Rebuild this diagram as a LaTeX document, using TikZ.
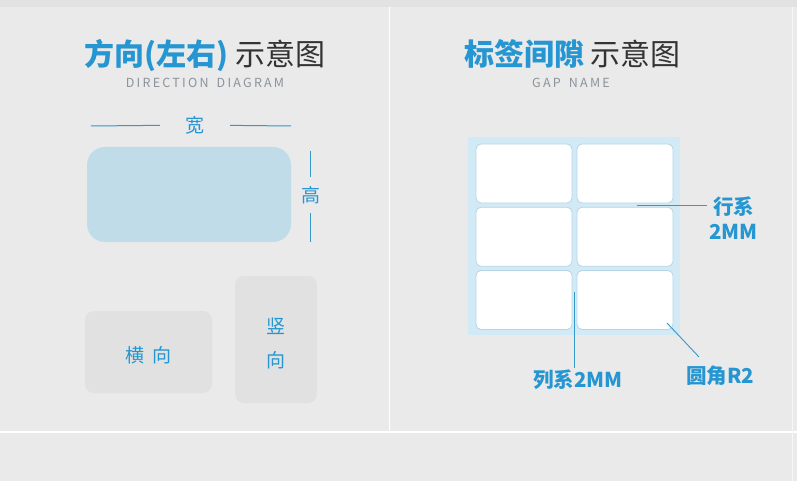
\documentclass[tikz,border=0pt]{standalone}
\usepackage{fontspec}
\setmainfont{Noto Sans CJK SC}
\definecolor{bgcol}{HTML}{EAEAEA}
\definecolor{stripcol}{HTML}{E2E2E2}
\definecolor{tblue}{HTML}{2596D1}
\definecolor{lblue}{HTML}{3399C8}
\definecolor{cardcol}{HTML}{C0DCE8}
\definecolor{boxcol}{HTML}{E1E1E1}
\definecolor{sheetcol}{HTML}{D2EAF6}
\definecolor{tagline}{HTML}{B5D5E5}
\definecolor{darktxt}{HTML}{333333}
\definecolor{subtxt}{HTML}{8C939B}
\tikzset{
  title/.style={anchor=base, inner sep=0pt, text=darktxt, font=\fontsize{30}{34}\selectfont},
  sub/.style={anchor=base, inner sep=0pt, text=subtxt, font=\fontsize{12.5}{14}\selectfont\addfontfeatures{LetterSpace=18}},
  dimlbl/.style={inner sep=0pt, text=tblue, font=\fontsize{19}{22}\selectfont},
  dimline/.style={lblue, line width=1pt},
  graybox/.style={fill=boxcol, rounded corners=9pt},
  boxtxt/.style={inner sep=0pt, text=tblue, font=\fontsize{19}{34}\selectfont},
  tag/.style={draw=tagline, fill=white, line width=0.8pt, rounded corners=5pt, minimum width=96pt, minimum height=59pt},
  note/.style={inner sep=2pt, text=tblue, font=\fontsize{20.5}{25}\selectfont\bfseries},
  lead/.style={lblue, line width=0.9pt}
}
\begin{document}
\begin{tikzpicture}[x=1pt,y=-1pt]
\useasboundingbox (0,0) rectangle (797,481);
% sfondo
\fill[bgcol] (0,0) rectangle (797,481);
\fill[stripcol] (0,0) rectangle (797,7);
\draw[white, line width=1.5pt] (389.5,7) -- (389.5,432);
\draw[white, line width=1.5pt] (0,432) -- (797,432);
\draw[white!60!bgcol, line width=1pt] (792.5,7) -- (792.5,481);
% sinistra: titolo
\node[title] (titL) at (205,66) {{\color{tblue}\bfseries 方向(左右)} 示意图};
\node[sub] (subL) at (205,88) {DIRECTION\hspace{3pt} DIAGRAM};
% larghezza
\node[dimlbl, minimum width=70pt] (wd) at (195,125) {宽};
\coordinate (wl) at (91,126);
\coordinate (wr) at (291,126);
\draw[dimline] (wl) -- (wd);
\draw[dimline] (wd) -- (wr);
% carta
\node[fill=cardcol, rounded corners=18pt, minimum width=204pt, minimum height=95pt] (card) at (189,194.5) {};
% altezza
\node[dimlbl, minimum height=36pt] (ht) at (310.5,195) {高};
\coordinate (htop) at (310.5,151);
\coordinate (hbot) at (310.5,242);
\draw[dimline] (htop) -- (ht);
\draw[dimline] (ht) -- (hbot);
% orientamento
\node[graybox, minimum width=127pt, minimum height=82pt,
  label={[boxtxt, yshift=-3pt]center:横\hspace{8pt}向}] (horiz) at (148.5,352) {};
\node[graybox, minimum width=82pt, minimum height=127pt,
  label={[boxtxt, align=center, yshift=-4pt]center:竖\\向}] (vert) at (276,339.5) {};
% destra: titolo
\node[title] (titR) at (572.5,66) {{\color{tblue}\bfseries 标签间隙} 示意图};
\node[sub] (subR) at (571,88) {GAP\hspace{3pt} NAME};
% foglio con etichette
\node[fill=sheetcol, minimum width=212pt, minimum height=197pt] (sheet) at (574,236) {};
\foreach \r in {1,2,3}
  \foreach \c in {1,2}
    \node[tag] (t\r\c) at ({524+(\c-1)*101},{173.5+(\r-1)*63.25}) {};
% quote
\coordinate (rg) at (637,205);
\node[note, align=center] (rowlbl) at (733.5,218) {行系\\2MM};
\draw[lead] (rg) -- (rg -| rowlbl.west);
\coordinate (cg) at (574,292);
\node[note] (collbl) at (578,380) {列系2MM};
\draw[lead] (cg) -- (cg |- collbl.north);
\coordinate (rc) at (667,323);
\coordinate (rce) at (699,357);
\node[note] (rndlbl) at (720,376) {圆角R2};
\draw[lead] (rc) -- (rce);
\end{tikzpicture}
\end{document}
